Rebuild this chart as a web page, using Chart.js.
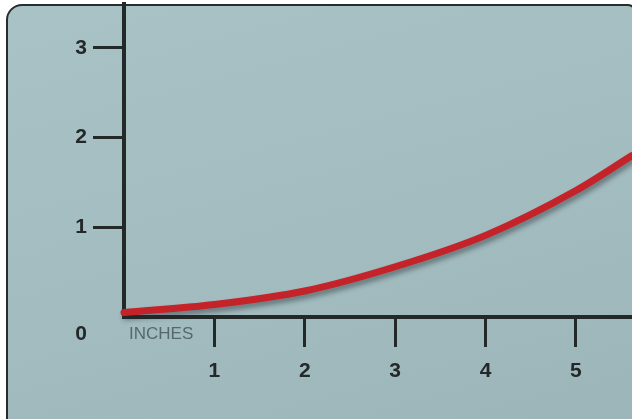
<!DOCTYPE html>
<html>
<head>
<meta charset="utf-8">
<script src="https://cdn.jsdelivr.net/npm/chart.js@4/dist/chart.umd.min.js"></script>
<style>
    html, body { margin: 0; padding: 0; background: #ffffff; }
    #wrap { position: relative; width: 632px; height: 419px; overflow: hidden; }
    #frame {
        position: absolute; left: 6px; top: 4px; width: 630px; height: 430px;
        box-sizing: border-box;
        border: 2px solid #2a2c2c; border-radius: 16px 8px 0 0;
        background: linear-gradient(165deg, #a9c2c6 0%, #a3bcc0 55%, #9cb5b8 100%);
    }
    #chart { position: absolute; left: 0; top: 0; }
</style>
</head>
<body>
<div id="wrap">
    <div id="frame"></div>
    <canvas id="chart" width="632" height="419"></canvas>
</div>
<script>
// wire height (y) read at each inch mark (x)
const inches = [0, 1, 2, 3, 4, 5, 5.62];
const heights = [0.05, 0.14, 0.29, 0.56, 0.91, 1.41, 1.80];

const xTickLabels = ['', '1', '2', '3', '4', '5'];
const yTickLabels = ['', '1', '2', '3'];
const axisTitle = 'INCHES';

const ink = '#232829';
const tickFont = { family: 'Liberation Sans', size: 21, weight: 'bold' };

// the "0" and "INCHES" sit off the normal tick spots, so draw them by hand
const cornerLabels = {
    id: 'cornerLabels',
    afterDraw(chart) {
        const { ctx, chartArea } = chart;
        ctx.save();
        ctx.fillStyle = ink;
        ctx.font = 'bold 21px "Liberation Sans"';
        ctx.textAlign = 'center';
        ctx.textBaseline = 'middle';
        ctx.fillText('0', 81, chartArea.bottom + 17);
        ctx.fillStyle = '#56686c';
        ctx.font = '17px "Liberation Sans"';
        ctx.textAlign = 'left';
        ctx.fillText(axisTitle, 129, chartArea.bottom + 17);
        ctx.restore();
    }
};

const wireShadow = {
    id: 'wireShadow',
    beforeDatasetDraw(chart) {
        const ctx = chart.ctx;
        ctx.save();
        ctx.shadowColor = 'rgba(30, 40, 45, 0.45)';
        ctx.shadowBlur = 5;
        ctx.shadowOffsetX = 2;
        ctx.shadowOffsetY = 4;
    },
    afterDatasetDraw(chart) {
        chart.ctx.restore();
    }
};

const hideZero = (c) => (c.tick && c.tick.value === 0 ? 'rgba(0,0,0,0)' : ink);

new Chart(document.getElementById('chart').getContext('2d'), {
    type: 'line',
    data: {
        datasets: [{
            data: inches.map((x, i) => ({ x: x, y: heights[i] })),
            borderColor: '#c4232a',
            borderWidth: 7,
            borderCapStyle: 'round',
            pointRadius: 0,
            cubicInterpolationMode: 'monotone',
            clip: false
        }]
    },
    options: {
        responsive: false,
        animation: false,
        layout: { padding: { top: 4, left: 0, right: 0, bottom: 0 } },
        plugins: {
            legend: { display: false },
            tooltip: { enabled: false }
        },
        scales: {
            x: {
                type: 'linear',
                min: 0,
                max: 5.62,
                afterFit: (s) => {
                    s.height = 102;
                    s.paddingLeft = 0;
                    s.paddingRight = 0;
                },
                border: { color: ink, width: 4 },
                grid: {
                    drawOnChartArea: false,
                    drawTicks: true,
                    tickLength: 30,
                    tickWidth: 3,
                    color: hideZero
                },
                ticks: {
                    stepSize: 1,
                    includeBounds: false,
                    color: ink,
                    font: tickFont,
                    padding: 12,
                    maxRotation: 0,
                    callback: (v) => xTickLabels[v] ?? ''
                }
            },
            y: {
                min: 0,
                max: 3.49,
                afterFit: (s) => {
                    s.width = 124;
                    s.paddingTop = 0;
                    s.paddingBottom = 0;
                },
                border: { color: ink, width: 4 },
                grid: {
                    drawOnChartArea: false,
                    drawTicks: true,
                    tickLength: 31,
                    tickWidth: 3,
                    color: hideZero
                },
                ticks: {
                    stepSize: 1,
                    includeBounds: false,
                    color: ink,
                    font: tickFont,
                    padding: 6,
                    callback: (v) => yTickLabels[v] ?? ''
                }
            }
        }
    },
    plugins: [wireShadow, cornerLabels]
});
</script>
</body>
</html>
